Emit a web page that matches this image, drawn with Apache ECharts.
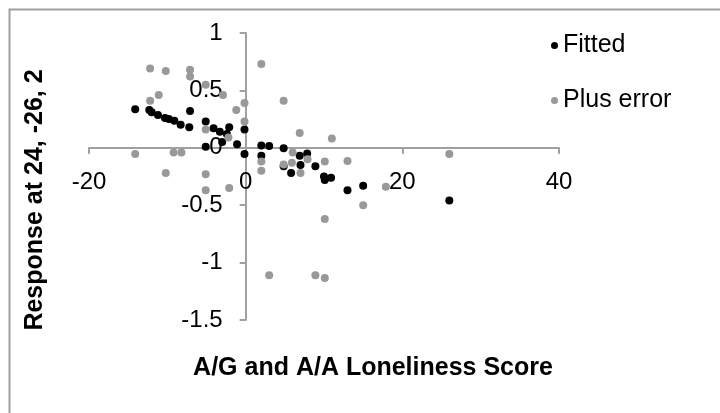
<!DOCTYPE html>
<html>
<head>
<meta charset="utf-8">
<script src="https://cdn.jsdelivr.net/npm/echarts@6/dist/echarts.min.js"></script>
<style>html,body{margin:0;padding:0;background:#fff}#c{width:720px;height:413px}</style>
</head>
<body>
<div id="c"></div>
<script>
var fittedX = [-14.1,-12.3,-12.0,-11.2,-10.3,-9.8,-9.1,-8.3,-7.2,-7.1,-5.1,-5.1,-4.1,-3.3,-3.0,-2.1,-2.4,-1.1,-0.15,-0.15,2.0,3.0,2.0,4.85,4.85,5.8,6.9,7.0,7.85,8.9,10.0,10.1,10.9,13.0,15.0,26.0];
var fittedY = [0.335,0.33,0.31,0.285,0.26,0.25,0.235,0.20,0.18,0.32,0.23,0.01,0.17,0.14,0.05,0.18,0.12,0.03,0.16,-0.055,0.02,0.015,-0.07,-0.005,-0.16,-0.22,-0.07,-0.15,-0.05,-0.16,-0.25,-0.28,-0.26,-0.37,-0.33,-0.46];
var errorX = [-14.1,-12.2,-12.2,-11.1,-10.2,-10.2,-9.2,-8.2,-7.1,-7.1,-5.1,-5.1,-5.1,-5.1,-2.9,-2.2,-2.1,-1.2,-0.15,-0.15,2.0,2.0,2.0,3.0,4.85,4.85,5.9,6.0,6.9,7.0,7.9,8.9,10.1,10.1,10.1,11.0,13.0,15.0,17.9,26.0];
var errorY = [-0.055,0.69,0.41,0.46,0.67,-0.22,-0.04,-0.04,0.68,0.62,0.55,0.16,-0.23,-0.37,0.46,0.09,-0.35,0.33,0.39,0.23,0.73,-0.12,-0.2,-1.11,0.41,-0.145,-0.13,-0.04,0.13,-0.22,-0.1,-1.11,-0.12,-0.62,-1.135,0.08,-0.115,-0.50,-0.34,-0.055];
var seriesNames = ['Fitted', 'Plus error'];
var xTitle = 'A/G and A/A Loneliness Score';
var yTitle = 'Response at 24, -26, 2';

function pairs(xs, ys) { return xs.map(function (x, i) { return [x, ys[i]]; }); }

var FONT = '"Liberation Sans", Arial, sans-serif';
var AXIS_COLOR = '#a0a0a0';
var GRID = { left: 89, top: 33, width: 470, height: 287 };
var X_MIN = -20, X_MAX = 40, Y_MIN = -1.5, Y_MAX = 1;
// axes cross at zero: shift each axis from the grid edge to the other axis's zero
var xAxisOffset = -(GRID.height * (0 - Y_MIN) / (Y_MAX - Y_MIN));
var yAxisOffset = -(GRID.width * (0 - X_MIN) / (X_MAX - X_MIN));

var chart = echarts.init(document.getElementById('c'), null, { renderer: 'canvas' });
chart.setOption({
  animation: false,
  backgroundColor: '#fff',
  textStyle: { fontFamily: FONT },
  grid: { left: GRID.left, top: GRID.top, width: GRID.width, height: GRID.height, containLabel: false },
  legend: {
    orient: 'vertical', left: 546, top: 28, itemGap: 30,
    itemWidth: 7, itemHeight: 7,
    textStyle: { fontSize: 25, color: '#000', fontFamily: FONT },
    data: [{ name: seriesNames[0], icon: 'circle' }, { name: seriesNames[1], icon: 'circle' }]
  },
  xAxis: {
    type: 'value', min: X_MIN, max: X_MAX, interval: 20, position: 'bottom', offset: xAxisOffset,
    axisLine: { onZero: false, lineStyle: { color: AXIS_COLOR, width: 2 } },
    axisTick: { show: true, length: 6, lineStyle: { color: AXIS_COLOR, width: 2 } },
    axisLabel: { fontSize: 24, color: '#000', margin: 23, fontFamily: FONT },
    splitLine: { show: false }
  },
  yAxis: {
    type: 'value', min: Y_MIN, max: Y_MAX, interval: 0.5, position: 'left', offset: yAxisOffset,
    axisLine: { show: true, onZero: false, lineStyle: { color: AXIS_COLOR, width: 2 } },
    axisTick: { show: true, length: 6, lineStyle: { color: AXIS_COLOR, width: 2 } },
    axisLabel: { fontSize: 24, color: '#000', margin: 23, fontFamily: FONT, padding: [10,0,0,0] },
    splitLine: { show: false }
  },
  graphic: [
    { type: 'rect', left: 7, top: 7, shape: { width: 800, height: 500 }, style: { fill: 'none', stroke: '#a0a0a0', lineWidth: 2 }, silent: true },
    { type: 'text', x: 373, y: 368, style: { text: xTitle, font: 'bold 25px ' + FONT, fill: '#000', textAlign: 'center', textVerticalAlign: 'middle' } },
    { type: 'text', x: 35, y: 200, rotation: Math.PI / 2, style: { text: yTitle, font: 'bold 25px ' + FONT, fill: '#000', textAlign: 'center', textVerticalAlign: 'middle' } }
  ],
  series: [
    { name: seriesNames[0], type: 'scatter', symbol: 'circle', symbolSize: 8, itemStyle: { color: '#000', opacity: 1 }, data: pairs(fittedX, fittedY) },
    { name: seriesNames[1], type: 'scatter', symbol: 'circle', symbolSize: 8, itemStyle: { color: '#999999', opacity: 1 }, data: pairs(errorX, errorY) }
  ]
});
</script>
</body>
</html>
